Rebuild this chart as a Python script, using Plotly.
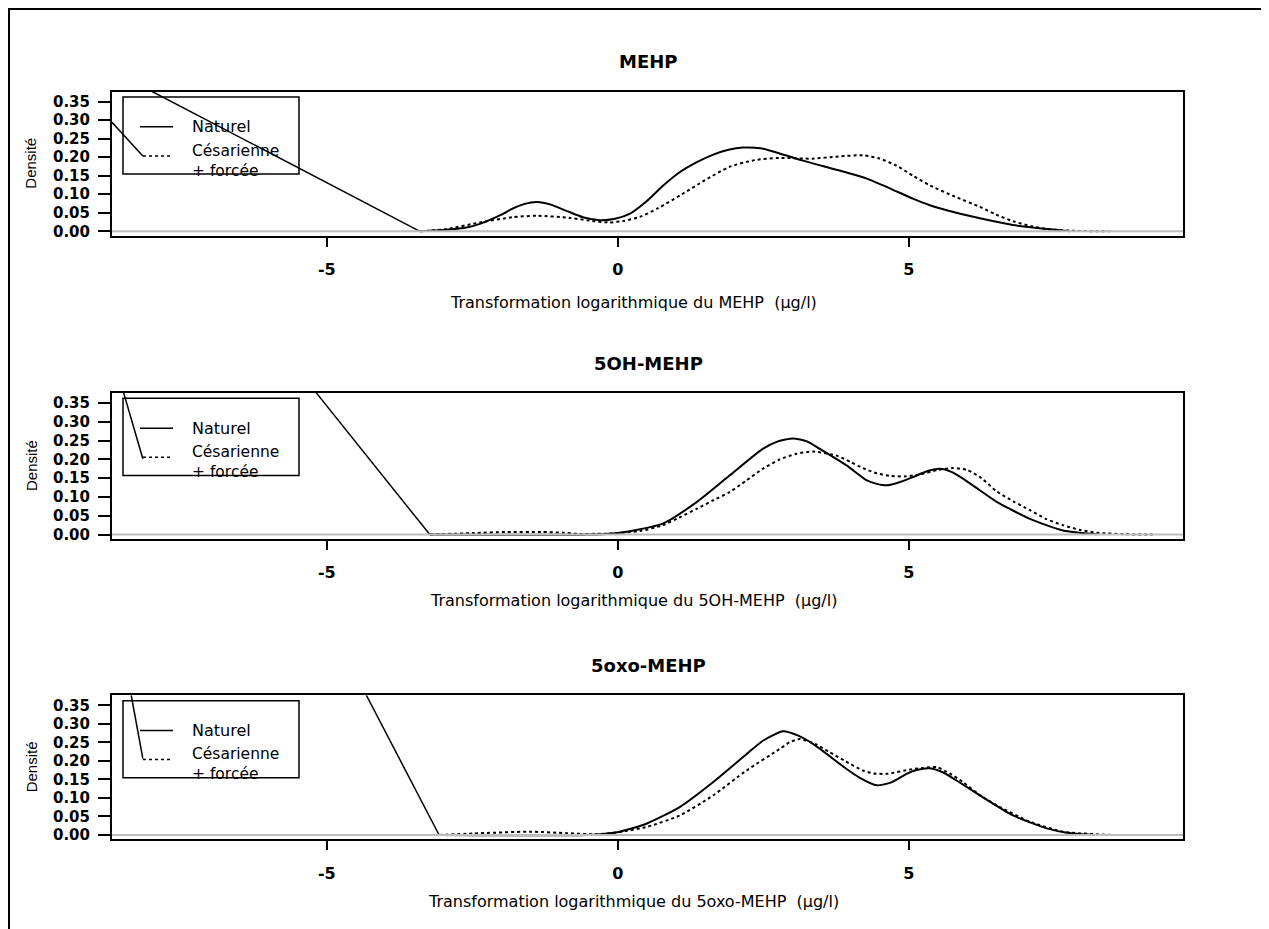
import plotly.graph_objects as go

# page body has an 8px margin, so the figure is drawn 8px in from the corner
OFF = 8
W, H = 1269 - OFF, 929 - OFF

# ---------------- data ----------------
panel_titles = ["MEHP", "5OH-MEHP", "5oxo-MEHP"]
x_titles = [
    "Transformation logarithmique du MEHP  (µg/l)",
    "Transformation logarithmique du 5OH-MEHP  (µg/l)",
    "Transformation logarithmique du 5oxo-MEHP  (µg/l)",
]
legend_labels = ["Naturel", "Césarienne<br>+ forcée"]
x_tick_vals = [-5, 0, 5]
x_tick_text = ["-5", "0", "5"]
y_tick_vals = [0.00, 0.05, 0.10, 0.15, 0.20, 0.25, 0.30, 0.35]

# MEHP
mehp_nat_x = [-3.40, -2.94, -2.60, -2.37, -2.00, -1.80, -1.60, -1.39, -1.15, -0.88, -0.60, -0.31,
              -0.05, 0.21, 0.50, 0.77, 1.05, 1.35, 1.64, 1.90, 2.15, 2.45, 2.78, 3.15, 3.52, 3.90,
              4.28, 4.70, 5.07, 5.35, 5.65, 6.22, 6.79, 7.37, 7.77]
mehp_nat_y = [0.000, 0.004, 0.010, 0.020, 0.045, 0.062, 0.074, 0.079, 0.072, 0.055, 0.038, 0.030,
              0.034, 0.048, 0.082, 0.122, 0.158, 0.186, 0.207, 0.220, 0.226, 0.224, 0.210, 0.192,
              0.176, 0.160, 0.142, 0.114, 0.088, 0.071, 0.057, 0.035, 0.017, 0.006, 0.000]
mehp_ces_x = [-3.40, -2.94, -2.37, -1.80, -1.39, -0.82, -0.40, -0.14, 0.10, 0.38, 0.70, 1.07,
              1.50, 1.92, 2.35, 2.78, 3.35, 3.80, 4.21, 4.50, 4.79, 5.07, 5.36, 5.80, 6.22, 6.50,
              6.79, 7.10, 7.37, 7.90, 8.45]
mehp_ces_y = [0.000, 0.006, 0.024, 0.038, 0.042, 0.036, 0.027, 0.024, 0.028, 0.039, 0.063, 0.097,
              0.138, 0.174, 0.192, 0.198, 0.196, 0.202, 0.205, 0.196, 0.177, 0.150, 0.124, 0.093,
              0.066, 0.045, 0.027, 0.014, 0.006, 0.001, 0.000]
mehp_link_a_x = [-8.00, -3.40]
mehp_link_a_y = [0.377, 0.000]
mehp_link_b_x = [-8.69, -8.16]
mehp_link_b_y = [0.294, 0.203]

# 5OH-MEHP
oh_nat_x = [-3.23, -0.50, -0.08, 0.21, 0.77, 1.36, 1.92, 2.49, 2.75, 3.01, 3.25, 3.47, 3.93,
            4.28, 4.45, 4.62, 4.85, 5.07, 5.30, 5.53, 5.73, 5.93, 6.20, 6.51, 7.08, 7.65, 8.23]
oh_nat_y = [0.000, 0.000, 0.003, 0.009, 0.029, 0.087, 0.157, 0.228, 0.248, 0.256, 0.248, 0.228,
            0.184, 0.144, 0.135, 0.131, 0.140, 0.153, 0.168, 0.175, 0.167, 0.149, 0.120, 0.087,
            0.042, 0.011, 0.001]
oh_ces_x = [-3.23, -2.50, -1.90, -1.30, -0.94, -0.70, -0.08, 0.40, 0.77, 1.05, 1.36, 1.65, 1.92,
            2.20, 2.49, 2.78, 3.07, 3.36, 3.76, 4.00, 4.21, 4.45, 4.67, 4.95, 5.19, 5.50, 5.76,
            6.00, 6.25, 6.51, 6.80, 7.08, 7.35, 7.65, 7.95, 8.23, 8.70, 9.19]
oh_ces_y = [0.000, 0.004, 0.007, 0.007, 0.005, 0.002, 0.003, 0.010, 0.025, 0.045, 0.069, 0.092,
            0.113, 0.143, 0.175, 0.200, 0.215, 0.221, 0.210, 0.193, 0.177, 0.163, 0.156, 0.155,
            0.160, 0.172, 0.177, 0.172, 0.150, 0.115, 0.088, 0.065, 0.042, 0.025, 0.012, 0.005,
            0.001, 0.000]
oh_link_a_x = [-5.18, -3.23]
oh_link_a_y = [0.377, 0.000]
oh_link_b_x = [-8.49, -8.16]
oh_link_b_y = [0.377, 0.202]

# 5oxo-MEHP
oxo_nat_x = [-3.07, -0.43, 0.03, 0.50, 1.07, 1.64, 2.21, 2.50, 2.84, 3.10, 3.36, 3.93, 4.15,
             4.45, 4.70, 4.96, 5.15, 5.36, 5.60, 5.82, 6.22, 6.79, 7.37, 7.82, 8.20]
oxo_nat_y = [0.000, 0.001, 0.009, 0.031, 0.076, 0.143, 0.218, 0.255, 0.280, 0.268, 0.245, 0.178,
             0.155, 0.134, 0.142, 0.165, 0.176, 0.180, 0.168, 0.147, 0.107, 0.053, 0.018, 0.004,
             0.000]
oxo_ces_x = [-3.07, -2.49, -1.51, -0.88, -0.37, 0.03, 0.50, 1.07, 1.64, 2.21, 2.78, 2.95, 3.13,
             3.40, 3.64, 3.90, 4.21, 4.40, 4.62, 5.07, 5.25, 5.48, 5.70, 5.93, 6.20, 6.51, 7.08,
             7.65, 8.51]
oxo_ces_y = [0.000, 0.004, 0.009, 0.005, 0.002, 0.008, 0.022, 0.053, 0.107, 0.174, 0.232, 0.250,
             0.259, 0.245, 0.223, 0.200, 0.174, 0.166, 0.165, 0.178, 0.181, 0.183, 0.166, 0.143,
             0.110, 0.080, 0.036, 0.009, 0.000]
oxo_link_a_x = [-4.32, -3.07]
oxo_link_a_y = [0.377, 0.000]
oxo_link_b_x = [-8.36, -8.16]
oxo_link_b_y = [0.377, 0.206]

panels = [
    dict(nat=(mehp_nat_x, mehp_nat_y), ces=(mehp_ces_x, mehp_ces_y),
         links=[(mehp_link_a_x, mehp_link_a_y), (mehp_link_b_x, mehp_link_b_y)]),
    dict(nat=(oh_nat_x, oh_nat_y), ces=(oh_ces_x, oh_ces_y),
         links=[(oh_link_a_x, oh_link_a_y), (oh_link_b_x, oh_link_b_y)]),
    dict(nat=(oxo_nat_x, oxo_nat_y), ces=(oxo_ces_x, oxo_ces_y),
         links=[(oxo_link_a_x, oxo_link_a_y), (oxo_link_b_x, oxo_link_b_y)]),
]

# ---------------- layout geometry (reference pixels) ----------------
X_RANGE = [-8.69, 9.71]
Y_RANGE = [-0.012, 0.377]
BOX_L, BOX_R = 112, 1183
TOPS = [92, 395, 699]
BOTTOMS = [237, 542, 844]
XT_Y = [304, 604, 906]


def px(x):
    return (x - OFF) / W


def py(y):
    return 1 - (y - OFF) / H


FONT = "DejaVu Sans"
fig = go.Figure()
layout = dict(
    width=W, height=H,
    margin=dict(l=0, r=0, t=0, b=0),
    paper_bgcolor="white", plot_bgcolor="white",
    showlegend=False,
)
shapes = []
annotations = []

for i, p in enumerate(panels):
    n = i + 1
    xa = "x" if n == 1 else f"x{n}"
    ya = "y" if n == 1 else f"y{n}"
    for lx, ly in p["links"]:
        fig.add_trace(go.Scatter(x=lx, y=ly, mode="lines", xaxis=xa, yaxis=ya,
                                 line=dict(color="black", width=1.5), hoverinfo="skip"))
    fig.add_trace(go.Scatter(x=p["nat"][0], y=p["nat"][1], mode="lines", xaxis=xa, yaxis=ya,
                             name="Naturel",
                             line=dict(color="black", width=2, shape="spline", smoothing=0.6)))
    fig.add_trace(go.Scatter(x=p["ces"][0], y=p["ces"][1], mode="lines", xaxis=xa, yaxis=ya,
                             name="Césarienne + forcée",
                             line=dict(color="black", width=2, dash="3px,3px", shape="spline",
                                       smoothing=0.6)))
    top, bot = TOPS[i], BOTTOMS[i]
    layout["xaxis" if n == 1 else f"xaxis{n}"] = dict(
        domain=[px(BOX_L), px(BOX_R)], anchor=ya, range=X_RANGE,
        tickvals=x_tick_vals, ticktext=x_tick_text, ticks="outside", ticklen=9, tickwidth=2,
        tickcolor="black", showline=True, linewidth=2, linecolor="black", mirror=True,
        showgrid=False, zeroline=False, ticklabelstandoff=9,
        tickfont=dict(family=FONT, size=16, color="black", weight="bold"),
    )
    layout["yaxis" if n == 1 else f"yaxis{n}"] = dict(
        domain=[py(bot), py(top)], anchor=xa, range=Y_RANGE,
        tickvals=y_tick_vals, tickformat=".2f", ticks="outside", ticklen=12, tickwidth=2,
        tickcolor="black", showline=True, linewidth=2, linecolor="black", mirror=True,
        showgrid=False, zeroline=False, ticklabelstandoff=5,
        tickfont=dict(family=FONT, size=15, color="black", weight="bold"),
    )
    # gray zero line
    shapes.append(dict(type="line", xref=f"{xa} domain", yref=ya, x0=0, x1=1, y0=0, y1=0,
                       line=dict(color="#bdbdbd", width=2), layer="above"))
    # legend box and samples
    shapes.append(dict(type="rect", xref="paper", yref="paper",
                       x0=px(123), x1=px(299), y0=py(top + 83), y1=py(top + 5.5),
                       line=dict(color="black", width=1.5), fillcolor="rgba(0,0,0,0)"))
    shapes.append(dict(type="line", xref="paper", yref="paper",
                       x0=px(140), x1=px(173), y0=py(top + 35.5), y1=py(top + 35.5),
                       line=dict(color="black", width=1.5)))
    shapes.append(dict(type="line", xref="paper", yref="paper",
                       x0=px(143), x1=px(172), y0=py(top + 64.7), y1=py(top + 64.7),
                       line=dict(color="black", width=1.5, dash="3px,3px")))
    annotations.append(dict(text=legend_labels[0], xref="paper", yref="paper", x=px(190),
                            y=py(top + 35.5), xanchor="left", yanchor="middle", showarrow=False,
                            font=dict(family=FONT, size=16, color="black")))
    annotations.append(dict(text=legend_labels[1], xref="paper", yref="paper", x=px(190),
                            y=py(top + 69.5), xanchor="left", yanchor="middle", showarrow=False,
                            align="left", font=dict(family=FONT, size=15.5, color="black")))
    # panel title
    annotations.append(dict(text=f"<b>{panel_titles[i]}</b>", xref="paper", yref="paper",
                            x=px(648), y=py(top - 30), xanchor="center", yanchor="middle",
                            showarrow=False, font=dict(family=FONT, size=18, color="black")))
    # x-axis title
    annotations.append(dict(text=x_titles[i], xref="paper", yref="paper",
                            x=px(633), y=py(XT_Y[i]), xanchor="center", yanchor="middle",
                            showarrow=False, font=dict(family=FONT, size=16, color="black")))
    # y-axis title
    annotations.append(dict(text="Densité", xref="paper", yref="paper",
                            x=px(31), y=py((top + bot) / 2), xanchor="center", yanchor="middle",
                            textangle=-90, showarrow=False,
                            font=dict(family="Liberation Sans", size=15, color="black")))

# outer frame (left/top edges sit at the page margin)
shapes.append(dict(type="rect", xref="paper", yref="paper",
                   x0=px(9), x1=px(1263), y0=-0.05, y1=py(9),
                   line=dict(color="black", width=2), fillcolor="rgba(0,0,0,0)"))

layout["shapes"] = shapes
layout["annotations"] = annotations
fig.update_layout(**layout)
fig.write_html("out.html")
